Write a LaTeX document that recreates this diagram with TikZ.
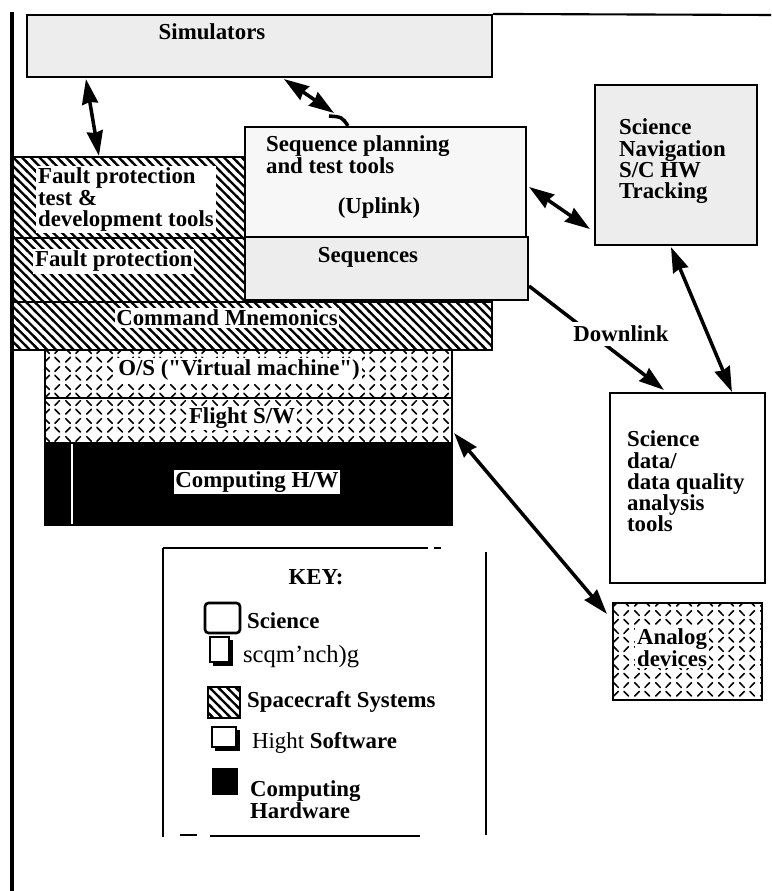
\documentclass[tikz,border=0pt]{standalone}
\usepackage{fontspec}
\setmainfont{Liberation Serif}[Ligatures=TeXOff]
\usetikzlibrary{
  arrows.meta,
  positioning,
  fit,
  patterns,
  calc
}

% diagonal hatch for spacecraft systems
\pgfdeclarepatternformonly{hatchlines}{\pgfqpoint{-1pt}{-1pt}}{\pgfqpoint{6pt}{6pt}}{\pgfqpoint{5pt}{5pt}}{%
  \pgfsetlinewidth{1.3pt}%
  \pgfpathmoveto{\pgfqpoint{-1pt}{6pt}}%
  \pgfpathlineto{\pgfqpoint{6pt}{-1pt}}%
  \pgfusepath{stroke}}
% short ticks for flight software
\pgfdeclarepatternformonly{tickmarks}{\pgfqpoint{0pt}{0pt}}{\pgfqpoint{12pt}{10pt}}{\pgfqpoint{12pt}{10pt}}{%
  \pgfsetlinewidth{0.9pt}\pgfsetroundcap
  \pgfpathmoveto{\pgfqpoint{1.6pt}{8.9pt}}\pgfpathlineto{\pgfqpoint{4.4pt}{6.1pt}}%
  \pgfpathmoveto{\pgfqpoint{7.6pt}{6.1pt}}\pgfpathlineto{\pgfqpoint{10.4pt}{8.9pt}}%
  \pgfpathmoveto{\pgfqpoint{1.6pt}{1.1pt}}\pgfpathlineto{\pgfqpoint{4.4pt}{3.9pt}}%
  \pgfpathmoveto{\pgfqpoint{7.6pt}{3.9pt}}\pgfpathlineto{\pgfqpoint{10.4pt}{1.1pt}}%
  \pgfusepath{stroke}}

\begin{document}
\begin{tikzpicture}[x=0.02cm,y=-0.02cm,
    >={Stealth[length=5mm,width=3.2mm,inset=1pt]},
    every node/.style={font=\bfseries\fontsize{13}{12}\selectfont},
    blk/.style={draw,line width=1.2pt,inner sep=0pt},
    stipple/.style={blk,fill=black!7},
    hatched/.style={blk,pattern=hatchlines},
    ticked/.style={blk,pattern=tickmarks},
    lbl/.style={inner sep=1pt,align=left},
    wlbl/.style={lbl,fill=white},
    arr/.style={line width=2pt,<->},
    keyline/.style={line width=1.5pt}]
    \useasboundingbox (0,0) rectangle (771,891);

    % Margin bar
    \draw[line width=2.8pt] (12,12) -- (12,891);

    % Simulators
    \node[stipple, fit={(27,15) (492,77)}] (sim) {};
    \coordinate (topend) at (771,15);
    \draw[line width=1.2pt] (sim.north east) -- (topend);
    \node[lbl] (simtxt) at (212,32) {Simulators};

    % Spacecraft systems (hatched)
    \node[hatched, fit={(13,157) (245,238)}] (fpt) {};
    \node[hatched, fit={(13,238) (245,302)}] (fp) {};
    \node[hatched, fit={(13,302) (492,350)}] (cmd) {};
    \node[wlbl, anchor=north west] (fpttxt) at (36,166) {Fault protection\\test \&\\development tools};
    \node[wlbl, anchor=base west] (fptxt) at (33,267) {Fault protection};
    \node[wlbl] (cmdtxt) at (227,318) {Command Mnemonics};

    % Sequencing
    \node[blk, fill=black!3, fit={(245,127) (526,237)}] (plan) {};
    \node[stipple, fit={(245,237) (528,300)}] (seq) {};
    \node[lbl, anchor=north west] (plantxt) at (264,134) {Sequence planning\\and test tools};
    \node[lbl] (uplink) at (379,208) {(Uplink)};
    \node[lbl] (seqtxt) at (368,257) {Sequences};

    % Flight software and hardware
    \node[ticked, fit={(45,350) (452,398)}] (os) {};
    \node[ticked, fit={(45,398) (452,443)}] (flight) {};
    \node[blk, fill=black, fit={(45,443) (452,525)}] (comp) {};
    \draw[white, line width=0.8pt] ($(comp.north west)+(28,2)$) -- ($(comp.south west)+(28,-2)$);
    \node[wlbl] (ostxt) at (239,370) {O/S ("Virtual machine")};
    \node[wlbl] (flighttxt) at (242,418) {Flight S/W};
    \node[wlbl] (comptxt) at (257,482) {Computing H/W};

    % Science side
    \node[stipple, fit={(595,85) (757,245)}] (nav) {};
    \node[lbl, anchor=north west] (navtxt) at (617,117) {Science\\Navigation\\S/C HW\\Tracking};
    \node[blk, fill=white, fit={(610,393) (765,583)}] (data) {};
    \node[lbl, anchor=north west] (datatxt) at (625,429) {Science\\data/\\data quality\\analysis\\tools};
    \node[ticked, fit={(613,603) (762,700)}] (analog) {};
    \node[wlbl, anchor=north west] (analogtxt) at (635,627) {Analog\\devices};

    % Interfaces
    \draw[arr] ($(sim.south west)+(60,1)$) -- ($(fpt.north west)+(87,0)$);
    \coordinate (planin) at (334,113);
    \draw[arr] ($(sim.south west)+(258,1)$) -- (planin);
    \draw[line width=2pt] (329,116) .. controls (342,117) .. ($(plan.north west)+(104,0)$);
    \draw[arr] ($(plan.east)+(2,5)$) -- ($(nav.south west)+(-4,-17)$);
    \draw[arr] ($(nav.south west)+(77,1)$) -- ($(data.north west)+(123,0)$);
    \draw[arr] ($(flight.south east)+(1,-11)$) -- ($(analog.north west)+(-5,12)$);
    \draw[line width=2pt, ->] ($(seq.south east)+(0,-15)$) -- ($(data.north west)+(55,-2)$);
    \node[lbl, fill=white, inner sep=2pt] (dl) at (621,334) {Downlink};

    % Key
    \draw[keyline] (163,548) -- (163,837);
    \draw[keyline] (163,548) -- (428,548);
    \draw[keyline] (434,548) -- (441,548);
    \draw[keyline] (486,552) -- (486,835);
    \draw[keyline] (180,835) -- (197,835);
    \draw[keyline] (210,836) -- (420,836);
    \node[lbl] (key) at (316,577) {KEY:};

    \draw[keyline, rounded corners=2pt] (205,603) rectangle (240,633);
    \node[lbl, anchor=west] (ksci) at (245,621) {Science};
    \fill (213,640) rectangle (233,666);
    \draw[fill=white, line width=0.6pt] (210,637) rectangle (229,662);
    \node[lbl, anchor=west, font=\fontsize{14}{14}\selectfont] (kseq) at (241,657) {scqm’nch)g};
    \draw[line width=1.2pt, pattern=hatchlines] (208,687) rectangle (240,718);
    \node[lbl, anchor=west] (ksys) at (245,702) {Spacecraft Systems};
    \fill (215,730) rectangle (240,751);
    \draw[fill=white, line width=0.6pt] (212,727) rectangle (236,747);
    \node[lbl, anchor=west] (ksw) at (250,743) {\mdseries Hight \bfseries Software};
    \fill (212,768) rectangle (238,795);
    \node[lbl, anchor=north west] (khw) at (248,779) {Computing\\Hardware};
\end{tikzpicture}
\end{document}
